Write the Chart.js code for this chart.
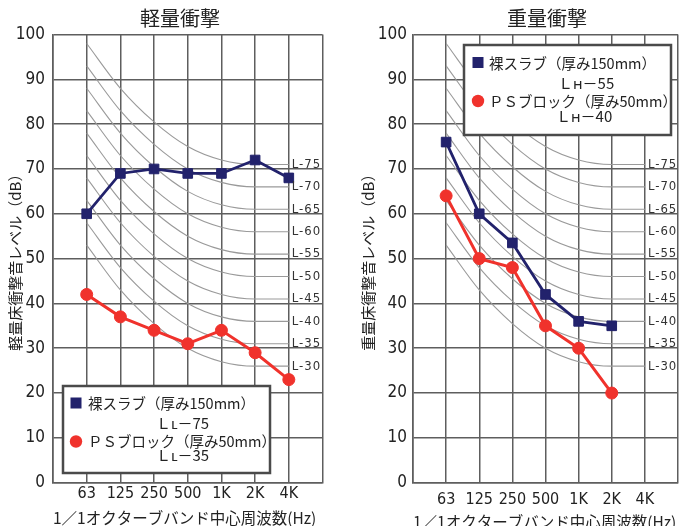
<!DOCTYPE html>
<html lang="ja">
<head>
<meta charset="utf-8">
<title>軽量衝撃・重量衝撃</title>
<script src="https://cdn.jsdelivr.net/npm/chart.js@4.4.1/dist/chart.umd.min.js"></script>
<style>
  html, body { margin: 0; padding: 0; background: #fff; overflow: hidden; }
  #wrap { position: relative; width: 683px; height: 526px; overflow: hidden; }
  #lightChart { position: absolute; left: 0; top: 0; }
  #heavyChart { position: absolute; left: 341px; top: 0; }
</style>
</head>
<body>
<div id="wrap">
  <canvas id="lightChart" width="341" height="526"></canvas>
  <canvas id="heavyChart" width="345" height="532"></canvas>
</div>
<script>
// Bandes d'octave (axe x)
const BANDS = ['63', '125', '250', '500', '1K', '2K', '4K'];

// 軽量衝撃 (dB)
const lightBare = [60, 69, 70, 69, 69, 72, 68];
const lightPS   = [42, 37, 34, 31, 34, 29, 23];

// 重量衝撃 (dB), pas de 4K
const heavyBare = [76, 60, 53.5, 42, 36, 35];
const heavyPS   = [64, 50, 48, 35, 30, 20];

// Courbes L (63 → 4K)
const curveNames = ['L-75', 'L-70', 'L-65', 'L-60', 'L-55', 'L-50', 'L-45', 'L-40', 'L-35', 'L-30'];
const curveValues = [
  [98, 88, 80.5, 75, 72, 71, 71],
  [93, 83, 75.5, 70, 67, 66, 66],
  [88, 78, 70.5, 65, 62, 61, 61],
  [83, 73, 65.5, 60, 57, 56, 56],
  [78, 68, 60.5, 55, 52, 51, 51],
  [73, 63, 55.5, 50, 47, 46, 46],
  [68, 58, 50.5, 45, 42, 41, 41],
  [63, 53, 45.5, 40, 37, 36, 36],
  [58, 48, 40.5, 35, 32, 31, 31],
  [53, 43, 35.5, 30, 27, 26, 26]
];

const NARROW = '"Liberation Sans Narrow", "DejaVu Sans Condensed", "Arial Narrow", sans-serif';
const JP = '"Noto Sans CJK JP", "Noto Sans", sans-serif';
const NAVY = '#22226c';
const RED = '#f0322c';
const GRID = '#5e5e5e';
const TEXT = '#222';

function toPoints(values) {
  return values.map((v, i) => ({ x: i, y: v }));
}

// Titre, étiquettes L-xx et légende encadrée
const decorPlugin = {
  id: 'decor',
  afterDatasetsDraw(chart, args, o) {
    const { ctx, scales: { x, y } } = chart;
    ctx.save();

    // étiquettes des courbes
    ctx.font = '13px ' + NARROW;
    ctx.fillStyle = '#333';
    ctx.textAlign = 'left';
    ctx.textBaseline = 'middle';
    ctx.letterSpacing = '1px';
    curveNames.forEach((name, i) => {
      const vals = curveValues[i];
      ctx.fillText(name, x.getPixelForValue(6) + 3, y.getPixelForValue(vals[6]));
    });
    ctx.letterSpacing = '0px';

    // titre
    ctx.font = '20px ' + JP;
    ctx.fillStyle = TEXT;
    ctx.textAlign = 'center';
    ctx.fillText(o.title, o.titleX, 18);

    // légende
    const b = o.box;
    ctx.fillStyle = '#fff';
    ctx.fillRect(b.x, b.y, b.w, b.h);
    ctx.lineWidth = 2.5;
    ctx.strokeStyle = '#4a4a4a';
    ctx.strokeRect(b.x, b.y, b.w, b.h);

    ctx.fillStyle = NAVY;
    ctx.fillRect(b.sq[0] - 5.5, b.sq[1] - 5.5, 11, 11);
    ctx.fillStyle = RED;
    ctx.beginPath();
    ctx.arc(b.ci[0], b.ci[1], 6.2, 0, Math.PI * 2);
    ctx.fill();

    ctx.fillStyle = TEXT;
    ctx.textAlign = 'left';
    ctx.font = '14.5px ' + JP;
    ctx.fillText(chart.data.datasets[0].label, b.t1[0], b.t1[1]);
    ctx.fillText(chart.data.datasets[1].label, b.t2[0], b.t2[1]);
    ctx.font = '15px ' + JP;
    ctx.fillText(o.sub1, b.s1[0], b.s1[1]);
    ctx.fillText(o.sub2, b.s2[0], b.s2[1]);

    ctx.restore();
  }
};

function makeChart(canvasId, cfg) {
  const curveSets = curveValues.map((vals, i) => ({
    label: curveNames[i],
    data: toPoints(vals),
    borderColor: '#9a9a9a',
    borderWidth: 1.1,
    pointRadius: 0,
    cubicInterpolationMode: 'monotone',
    order: 2
  }));

  return new Chart(document.getElementById(canvasId), {
    type: 'line',
    data: {
      datasets: [
        {
          label: '裸スラブ（厚み150mm）',
          data: toPoints(cfg.bare),
          borderColor: NAVY, backgroundColor: NAVY,
          borderWidth: 2.8, pointStyle: 'rect', pointRadius: 6.8, pointBorderWidth: 1,
          order: 1
        },
        {
          label: 'ＰＳブロック（厚み50mm）',
          data: toPoints(cfg.ps),
          borderColor: RED, backgroundColor: RED,
          borderWidth: 3, pointStyle: 'circle', pointRadius: 6, pointBorderWidth: 1,
          order: 0
        },
        ...curveSets
      ]
    },
    options: {
      responsive: false,
      animation: false,
      layout: { padding: { top: 34.5, right: cfg.padRight, left: 0, bottom: 0 } },
      plugins: {
        legend: { display: false },
        tooltip: { enabled: false },
        decor: cfg.decor
      },
      scales: {
        x: {
          type: 'linear', min: -1, max: 7,
          afterFit: s => { s.height = cfg.xHeight; },
          ticks: {
            stepSize: 1, autoSkip: false, maxRotation: 0,
            padding: cfg.xTickPad, color: TEXT,
            font: { family: NARROW, size: 16 },
            callback: v => BANDS[v] ?? ''
          },
          grid: { color: GRID, lineWidth: 1.5, drawTicks: false },
          border: { color: GRID, width: 1.6 },
          title: {
            display: true, align: 'start',
            text: '1／1オクターブバンド中心周波数(Hz)',
            color: TEXT,
            font: { family: JP, size: 15.5, lineHeight: 1 },
            padding: { top: 0, bottom: cfg.xTitlePad }
          }
        },
        y: {
          min: 0, max: 100,
          afterFit: s => { s.width = cfg.yWidth; },
          ticks: {
            stepSize: 10, padding: cfg.yTickPad, color: TEXT,
            font: { family: NARROW, size: 17 }
          },
          grid: { color: GRID, lineWidth: 1.5, drawTicks: false },
          border: { color: GRID, width: 1.6 },
          title: {
            display: true, text: cfg.yTitle, color: TEXT,
            font: { family: JP, size: 15 },
            padding: { top: cfg.yTitlePad, bottom: 0 }
          }
        }
      }
    },
    plugins: [decorPlugin]
  });
}

makeChart('lightChart', {
  bare: lightBare, ps: lightPS,
  padRight: 18.5, xHeight: 43.3, xTickPad: 2, xTitlePad: 0,
  yWidth: 53, yTickPad: 8, yTitlePad: 6,
  yTitle: '軽量床衝撃音レベル（dB）',
  decor: {
    title: '軽量衝撃', titleX: 180,
    sub1: 'Ｌʟ－75', sub2: 'Ｌʟ－35',
    box: { x: 63, y: 386, w: 207, h: 87, sq: [76, 403], ci: [76, 441.5],
           t1: [88, 403], s1: [156, 423], t2: [88, 441.5], s2: [156, 455] }
  }
});

makeChart('heavyChart', {
  bare: heavyBare, ps: heavyPS,
  padRight: 2.5, xHeight: 49.3, xTickPad: 8, xTitlePad: 2,
  yWidth: 72, yTickPad: 6, yTitlePad: 18,
  yTitle: '重量床衝撃音レベル（dB）',
  decor: {
    title: '重量衝撃', titleX: 206,
    sub1: 'Ｌʜ－55', sub2: 'Ｌʜ－40',
    box: { x: 123, y: 45, w: 207, h: 90, sq: [137, 62.5], ci: [137, 101],
           t1: [148, 63], s1: [217, 83], t2: [148, 101], s2: [215, 116] }
  }
});
</script>
</body>
</html>
